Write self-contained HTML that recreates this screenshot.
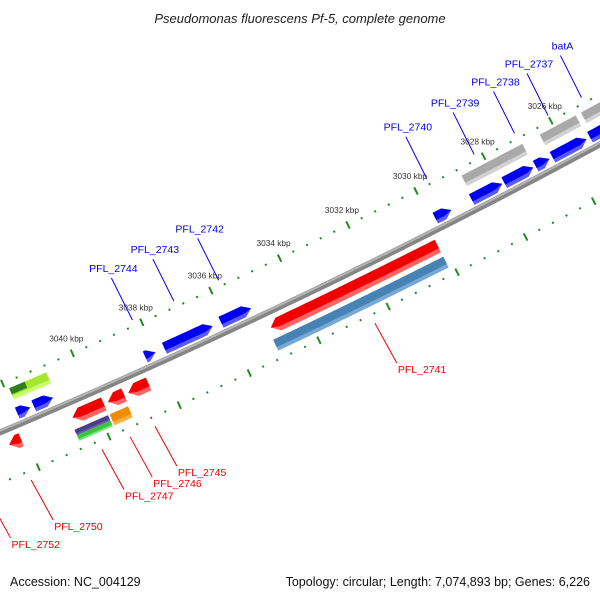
<!DOCTYPE html>
<html><head><meta charset="utf-8"><style>
html,body{margin:0;padding:0;background:#fff;}
svg{display:block;font-family:"Liberation Sans",sans-serif;}
</style></head><body>
<svg id="map" width="600" height="600" viewBox="0 0 600 600" xmlns="http://www.w3.org/2000/svg">
<text x="300" y="23" text-anchor="middle" font-size="13" font-style="italic" fill="#222">Pseudomonas fluorescens Pf-5, complete genome</text>
<g id="ticks"></g>
<g id="backbone"></g>
<g id="genes"></g>
<g id="labels"></g>
<text x="10" y="586" font-size="12.5" fill="#111">Accession: NC_004129</text>
<text x="590" y="586" text-anchor="end" font-size="12.5" fill="#111">Topology: circular; Length: 7,074,893 bp; Genes: 6,226</text>
</svg>
<script>
// ---- data (kbp) ----
var geneStart = [3020.0, 3025.4, 3026.5, 3026.98, 3027.9, 3029.4, 3035.24, 3036.35, 3038.0, 3040.93, 3041.58,
                 3024.0, 3025.36, 3026.95, 3040.83, 3041.45,
                 3030.14, 3039.78, 3039.2, 3038.5, 3042.13,
                 3030.14, 3039.8, 3039.8, 3039.23, 3043.0];
var geneEnd   = [3025.3, 3026.41, 3026.91, 3027.84, 3028.8, 3029.87, 3036.11, 3037.74, 3038.29, 3041.48, 3041.95,
                 3025.2, 3026.43, 3028.75, 3041.89, 3041.89,
                 3034.99, 3040.67, 3039.66, 3039.08, 3042.47,
                 3035.07, 3040.75, 3040.75, 3039.75, 3045.0];
var geneTrack = ['fwd','fwd','fwd','fwd','fwd','fwd','fwd','fwd','fwd','fwd','fwd',
                 'gray','gray','gray','gray','gray',
                 'rev','rev','rev','rev','rev',
                 'low','lowTop','lowBot','low','low'];
var geneHead  = ['lo','lo','lo','lo','lo','lo','lo','lo','lo','lo','lo',
                 '','','','','',
                 'hi','hi','hi','hi','hi',
                 '','','','',''];
var geneColor = ['blue','blue','blue','blue','blue','blue','blue','blue','blue','blue','blue',
                 'gray','gray','gray','lime','dkgreen',
                 'red','red','red','red','red',
                 'steel','purple','green','orange','lime'];
var tickLabels = [3026, 3028, 3030, 3032, 3034, 3036, 3038, 3040];
var geneLabelNames = ['batA','PFL_2737','PFL_2738','PFL_2739','PFL_2740','PFL_2742','PFL_2743','PFL_2744',
                      'PFL_2741','PFL_2745','PFL_2746','PFL_2747','PFL_2750','PFL_2752'];
var geneLabelPos = [3025.0, 3026.0, 3027.0, 3028.2, 3029.6, 3035.7, 3037.0, 3038.2,
                    3032.5, 3038.8, 3039.5, 3040.3, 3042.3, 3043.5];
var geneLabelStrand = ['fwd','fwd','fwd','fwd','fwd','fwd','fwd','fwd','rev','rev','rev','rev','rev','rev'];

// ---- geometry ----
var NS='http://www.w3.org/2000/svg';
var CX=-2726, CY=-6015, R0=7000, TH0=1.12399, DTH=0.005464;
function pt(k,d){var t=TH0+(k-3034)*DTH, r=R0+d; return [CX+r*Math.cos(t), CY+r*Math.sin(t)];}
function P(a){return a[0].toFixed(2)+','+a[1].toFixed(2);}
function mk(tag,attrs,parent){var e=document.createElementNS(NS,tag);for(var a in attrs)e.setAttribute(a,attrs[a]);parent.appendChild(e);return e;}
var tracks={fwd:[-17,-5],gray:[-37,-25],rev:[8,22],low:[27,39],lowTop:[27,33],lowBot:[33,39]};
var colors={blue:['#0000f0','#5a5aff'],gray:['#a9a9a9','#d2d2d2'],lime:['#a6e830','#cbff6a'],dkgreen:['#2f7d1f','#2f7d1f'],
  red:['#f00000','#ff6464'],steel:['#4682b4','#78a8d4'],purple:['#4a3c8c','#6a5cac'],green:['#3cc43c','#70e870'],orange:['#f08c00','#ffb040']};

// backbone
var bb=document.getElementById('backbone');
function arc(d){var s='';for(var k=3016;k<=3050;k+=0.25){s+=(s?'L':'M')+P(pt(k,d));}return s;}
var b1=mk('path',{d:arc(0),fill:'none',stroke:'#858585','stroke-width':6},bb);


var b2=mk('path',{d:arc(-1.5),fill:'none',stroke:'#b4b4b4','stroke-width':2},bb);



// ticks
var tg=document.getElementById('ticks');
for(var i=0;i<=85;i++){
  var k=3016+i*0.4; var major=Math.abs(k/2-Math.round(k/2))<0.01;
  var rows=[[-48,-40,-45,-43],[43,51,46,48]];
  for(var r=0;r<2;r++){
    var a=major?pt(k,rows[r][0]):pt(k,rows[r][2]), b=major?pt(k,rows[r][1]):pt(k,rows[r][3]);
    var t=mk('line',{x1:a[0],y1:a[1],x2:b[0],y2:b[1],stroke:'#1e8c1e','stroke-width':major?2:2},tg);
    
    
  }
}
tickLabels.forEach(function(k){
  var p=pt(k,-44);
  var t=mk('text',{x:p[0]-6,y:p[1]-12,'text-anchor':'middle','font-size':'8.3',fill:'#333'},tg);
  t.textContent=k+' kbp';
  
  
});

// genes
var gg=document.getElementById('genes');
function shape(k1,k2,d1,d2,head,dm){
  var H=0.22, pts=[], mid=dm;
  var lo=k1, hi=k2, step=0.1, s;
  var aLo=(head==='lo')?Math.min(lo+H,hi):lo, aHi=(head==='hi')?Math.max(hi-H,lo):hi;
  for(s=aLo;s<=aHi+1e-6;s+=step)pts.push(pt(Math.min(s,aHi),d1));
  pts.push(pt(aHi,d1));
  if(head==='hi')pts.push(pt(hi,mid));
  for(s=aHi;s>=aLo-1e-6;s-=step)pts.push(pt(Math.max(s,aLo),d2));
  pts.push(pt(aLo,d2));
  if(head==='lo')pts.push(pt(lo,mid));
  return pts.map(P).join(' ');
}
for(var g=0;g<geneStart.length;g++){
  var tr=tracks[geneTrack[g]], c=colors[geneColor[g]], d1=tr[0], d2=tr[1];
  var dm=(d1+d2)/2;
  var grp=mk('g',{},gg);
  
  
  if(geneColor[g]==='dkgreen'){d2=d1+(d2-d1)*0.55;}
  var e1=mk('polygon',{points:shape(geneStart[g],geneEnd[g],d1,d2,geneHead[g],dm),fill:c[1]},grp);
  
  
  var dd=d1+(d2-d1)*0.68;
  var e2=mk('polygon',{points:shape(geneStart[g],geneEnd[g],d1,dd,geneHead[g]?geneHead[g]:'',Math.min(dm,dd)),fill:c[0]},grp);
  
  
}

// gene labels
var lg=document.getElementById('labels');
var fwdOff=[[-35,-62],[-33,-52],[-33,-48],[-32,-46],[-30,-44],[-30,-46],[-31,-48],[-29,-50]];
geneLabelPos.forEach(function(k,i){
  var fwd=geneLabelStrand[i]==='fwd';
  var a=fwd?pt(k,-50):pt(k,56), b=fwd?pt(k,-50-48):pt(k,56+44);
  if(!fwd){b=[a[0]+22,a[1]+40];}else{b=[a[0]-21,a[1]-42];}
  var col=fwd?'#0000ee':'#ee0000';
  var ln=mk('line',{x1:a[0],y1:a[1],x2:b[0],y2:b[1],stroke:col,'stroke-width':1},lg);
  
  
  var tx=mk('text',{x:fwd?b[0]+2:b[0]+1,y:fwd?b[1]-6:b[1]+10,'text-anchor':fwd?'middle':'start','font-size':'10.5',fill:col},lg);
  tx.textContent=geneLabelNames[i];
  
  
});
</script>
</body></html>
